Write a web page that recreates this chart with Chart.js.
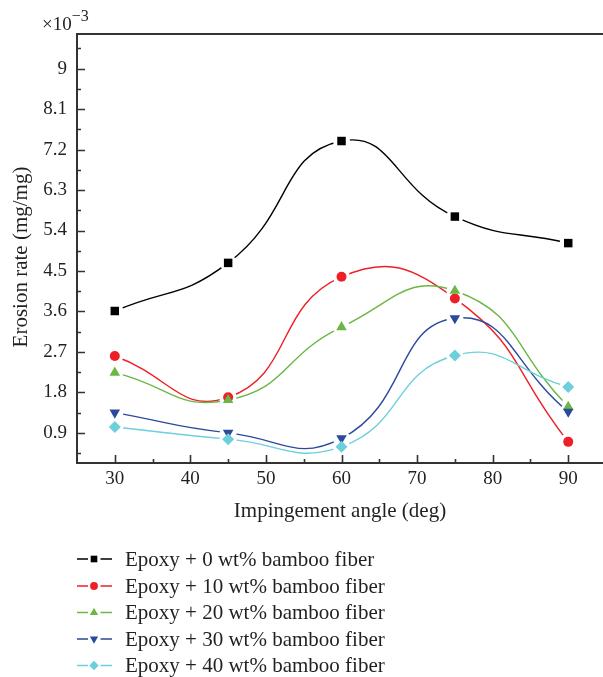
<!DOCTYPE html>
<html>
<head>
<meta charset="utf-8">
<script src="https://cdn.jsdelivr.net/npm/chart.js@4/dist/chart.umd.min.js"></script>
<style>
  html, body { margin: 0; padding: 0; background: #fff; }
  #wrap { width: 603px; height: 677px; position: relative; }
</style>
</head>
<body>
<div id="wrap"><canvas id="c" width="603" height="677"></canvas></div>
<script>
// Impingement angles (deg)
const angles = [30, 45, 60, 75, 90];

// Erosion rate (x10^-3 mg/mg) for each bamboo fiber loading
const fiber0  = [3.61, 4.68, 7.39, 5.71, 5.12];
const fiber10 = [2.61, 1.69, 4.37, 3.89, 0.70];
const fiber20 = [2.24, 1.63, 3.25, 4.06, 1.48];
const fiber30 = [1.35, 0.90, 0.78, 3.45, 1.37];
const fiber40 = [1.03, 0.76, 0.59, 2.62, 1.92];

const seriesNames = [
  'Epoxy + 0 wt% bamboo fiber',
  'Epoxy + 10 wt% bamboo fiber',
  'Epoxy + 20 wt% bamboo fiber',
  'Epoxy + 30 wt% bamboo fiber',
  'Epoxy + 40 wt% bamboo fiber'
];

// Axis ticks
const xTicks = [30, 40, 50, 60, 70, 80, 90];
const xMinorTicks = [35, 45, 55, 65, 75, 85];
const yTicks = [0.9, 1.8, 2.7, 3.6, 4.5, 5.4, 6.3, 7.2, 8.1, 9];
const yTickLabels = ['0.9', '1.8', '2.7', '3.6', '4.5', '5.4', '6.3', '7.2', '8.1', '9'];
const yMinorTicks = [0.45, 1.35, 2.25, 3.15, 4.05, 4.95, 5.85, 6.75, 7.65, 8.55, 9.45];

const FONT = "'Liberation Serif', 'DejaVu Serif', serif";
const TEXT = '#231f20';
const AXIS = '#333333';

// symbol per series
const styles = [
  { color: '#000000', pointStyle: 'rect',     radius: 6.0, rotation: 0 },
  { color: '#ee1f26', pointStyle: 'circle',   radius: 5.0, rotation: 0 },
  { color: '#6ab744', pointStyle: 'triangle', radius: 6.1, rotation: 0 },
  { color: '#2c4a9c', pointStyle: 'triangle', radius: 6.1, rotation: 180 },
  { color: '#6dcfdc', pointStyle: 'rectRot',  radius: 6.0, rotation: 0 }
];
// white clearance around each data point so the curves stop short of the symbols
const GAP = 8.5;
// legend symbols are drawn a little smaller than the plotted ones
const LEGEND_SCALE = 0.78;

const seriesValues = [fiber0, fiber10, fiber20, fiber30, fiber40];

// curves (with their white clearance discs) are drawn first, symbols on top
const curveSets = seriesValues.map((vals, i) => ({
  label: seriesNames[i],
  data: angles.map((a, k) => ({ x: a, y: vals[k] })),
  order: 100 - i,
  borderColor: styles[i].color,
  backgroundColor: '#ffffff',
  borderWidth: 1.4,
  tension: 0.5,
  pointStyle: 'circle',
  pointRadius: GAP,
  pointBackgroundColor: '#ffffff',
  pointBorderWidth: 0,
  fill: false
}));

const symbolSets = seriesValues.map((vals, i) => ({
  label: seriesNames[i],
  data: angles.map((a, k) => ({ x: a, y: vals[k] })),
  order: 50 - i,
  showLine: false,
  borderColor: styles[i].color,
  backgroundColor: styles[i].color,
  pointStyle: styles[i].pointStyle,
  pointRotation: styles[i].rotation,
  pointRadius: styles[i].radius,
  pointBackgroundColor: styles[i].color,
  pointBorderWidth: 0
}));

// inward major/minor ticks, top frame line, axis titles, exponent and legend
const decorPlugin = {
  id: 'decor',
  beforeDatasetsDraw(chart) {
    const ctx = chart.ctx;
    const a = chart.chartArea;
    const xs = chart.scales.x, ys = chart.scales.y;
    ctx.save();
    ctx.strokeStyle = AXIS;
    ctx.lineWidth = 1.6;
    ctx.beginPath();
    xTicks.forEach(v => { const p = Math.round(xs.getPixelForValue(v)) + 0.5; ctx.moveTo(p, a.bottom); ctx.lineTo(p, a.bottom - 8); });
    xMinorTicks.forEach(v => { const p = Math.round(xs.getPixelForValue(v)) + 0.5; ctx.moveTo(p, a.bottom); ctx.lineTo(p, a.bottom - 4); });
    yTicks.forEach(v => { const p = Math.round(ys.getPixelForValue(v)) + 0.5; ctx.moveTo(a.left, p); ctx.lineTo(a.left + 8, p); });
    yMinorTicks.forEach(v => { const p = Math.round(ys.getPixelForValue(v)) + 0.5; ctx.moveTo(a.left, p); ctx.lineTo(a.left + 4, p); });
    ctx.stroke();
    // top frame
    ctx.lineWidth = 2;
    ctx.beginPath();
    ctx.moveTo(a.left, a.top);
    ctx.lineTo(a.right, a.top);
    ctx.stroke();
    ctx.restore();
  },
  afterDraw(chart) {
    const ctx = chart.ctx;
    const a = chart.chartArea;
    ctx.save();
    ctx.fillStyle = TEXT;

    // x axis title
    ctx.font = '21px ' + FONT;
    ctx.textAlign = 'center';
    ctx.textBaseline = 'alphabetic';
    ctx.fillText('Impingement angle (deg)', (a.left + a.right) / 2, 517);

    // y axis title
    ctx.save();
    ctx.translate(27, 257);
    ctx.rotate(-Math.PI / 2);
    ctx.fillText('Erosion rate (mg/mg)', 0, 0);
    ctx.restore();

    // exponent of the y axis
    ctx.textAlign = 'left';
    ctx.font = '19px ' + FONT;
    ctx.fillText('\u00d710', 42, 30);
    const w = ctx.measureText('\u00d710').width;
    ctx.font = '16px ' + FONT;
    ctx.fillText('\u22123', 42 + w, 21);

    // legend: line, symbol, name
    const rows = [559, 586, 612.5, 639, 665.5];
    symbolSets.forEach((ds, i) => {
      const y = rows[i];
      ctx.strokeStyle = ds.borderColor;
      ctx.lineWidth = 1.6;
      ctx.beginPath();
      ctx.moveTo(77, y); ctx.lineTo(88, y);
      ctx.moveTo(100.5, y); ctx.lineTo(112, y);
      ctx.stroke();
      ctx.fillStyle = ds.pointBackgroundColor;
      Chart.helpers.drawPoint(ctx, {
        pointStyle: ds.pointStyle,
        radius: ds.pointRadius * LEGEND_SCALE,
        rotation: ds.pointRotation,
        borderWidth: 0
      }, 94, y);
      ctx.fillStyle = TEXT;
      ctx.font = '21px ' + FONT;
      ctx.textAlign = 'left';
      ctx.textBaseline = 'middle';
      ctx.fillText(ds.label, 125, y + 1);
    });
    ctx.restore();
  }
};

new Chart(document.getElementById('c'), {
  type: 'line',
  data: { datasets: curveSets.concat(symbolSets) },
  plugins: [decorPlugin],
  options: {
    responsive: false,
    animation: false,
    devicePixelRatio: 1,
    layout: { autoPadding: false, padding: { top: 34, right: 0, bottom: 174, left: 0 } },
    plugins: { legend: { display: false }, tooltip: { enabled: false } },
    scales: {
      x: {
        type: 'linear',
        min: 25,
        max: 94.6,
        afterFit(s) { s.height = 40; s.paddingLeft = 0; s.paddingRight = 0; },
        afterBuildTicks(s) { s.ticks = xTicks.map(v => ({ value: v })); },
        grid: { display: true, drawOnChartArea: false, drawTicks: false },
        border: { display: true, color: AXIS, width: 2 },
        ticks: {
          padding: 5,
          color: TEXT,
          font: { family: FONT, size: 19 },
          maxRotation: 0,
          callback: v => String(v)
        }
      },
      y: {
        type: 'linear',
        min: 0.23,
        max: 9.77,
        afterFit(s) { s.width = 77; s.paddingTop = 0; s.paddingBottom = 0; },
        afterBuildTicks(s) { s.ticks = yTicks.map(v => ({ value: v })); },
        grid: { display: true, drawOnChartArea: false, drawTicks: false },
        border: { display: true, color: AXIS, width: 2 },
        ticks: {
          padding: 10,
          color: TEXT,
          font: { family: FONT, size: 19 },
          callback: (v) => {
            const k = yTicks.findIndex(t => Math.abs(t - v) < 1e-6);
            return k >= 0 ? yTickLabels[k] : '';
          }
        }
      }
    }
  }
});
</script>
</body>
</html>
